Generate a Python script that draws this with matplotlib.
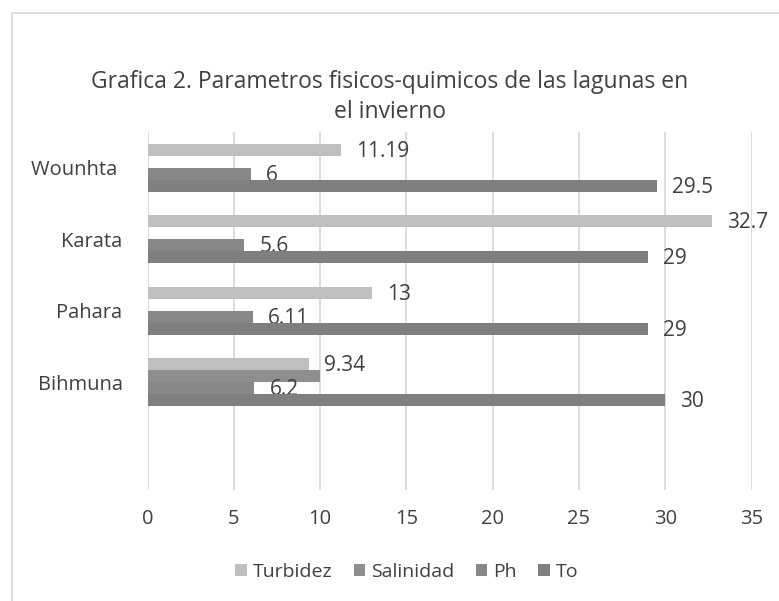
import numpy as np
import matplotlib.pyplot as plt
from matplotlib.patches import Rectangle

# Data (bottom to top)
lagunas = ['Bihmuna', 'Pahara', 'Karata', 'Wounhta ']
turbidez = [9.34, 13, 32.7, 11.19]
salinidad = [10, None, None, None]
ph = [6.2, 6.11, 5.6, 6]
temp = [30, 29, 29, 29.5]

series = [
    ('Turbidez', turbidez, '#bfbfbf', 0.252, True),
    ('Salinidad', salinidad, '#8e8e8e', 0.084, False),
    ('Ph', ph, '#878787', -0.084, True),
    ('To', temp, '#7f7f7f', -0.252, True),
]

plt.rcParams['font.family'] = ['Open Sans', 'DejaVu Sans']
text_col = '#404040'

fig = plt.figure(figsize=(7.79, 6.01), dpi=100)
fig.patches.append(Rectangle((12 / 779, -0.1), 1.2, 1 - 13 / 601 + 0.1,
                             transform=fig.transFigure, fill=False,
                             edgecolor='#d9d9d9', linewidth=1.2))

ax = fig.add_axes([147.5 / 779, 1 - 489.5 / 601, 604 / 779, 357.5 / 601])
y = np.arange(len(lagunas))
bar_h = 0.168

for name, vals, col, off, show in series:
    idx = [i for i, v in enumerate(vals) if v is not None]
    v = [vals[i] for i in idx]
    bars = ax.barh(y[idx] + off, v, height=bar_h, color=col, label=name, zorder=3)
    if show:
        for b, val in zip(bars, v):
            ax.annotate(f'{val:g}', (b.get_width(), b.get_y() + b.get_height() / 2),
                        xytext=(11, -1), textcoords='offset points',
                        ha='left', va='center', fontsize=15, color=text_col,
                        annotation_clip=False)

ax.set_xlim(0, 35)
ax.set_ylim(-1.5, 3.5)
ax.set_xticks(range(0, 36, 5))
ax.set_yticks(y)
ax.set_yticklabels(lagunas)
ax.grid(axis='x', color='#d9d9d9', linewidth=1.3, zorder=0)
for s in ax.spines.values():
    s.set_visible(False)
ax.tick_params(length=0, labelsize=14.5, colors=text_col)
ax.tick_params(axis='x', pad=14)
ax.tick_params(axis='y', pad=18)

fig.text(0.5, 1 - 97 / 601, 'Grafica 2. Parametros fisicos-quimicos de las lagunas en\nel invierno',
         ha='center', va='center', fontsize=16.5, color=text_col, linespacing=1.35)

handles, labels = ax.get_legend_handles_labels()
fig.legend(handles, labels, loc='center', bbox_to_anchor=(0.522, 1 - 572 / 601),
           ncol=4, frameon=False, fontsize=14, handlelength=0.6, handleheight=0.6,
           handletextpad=0.3, columnspacing=1.1, labelcolor=text_col)

fig.savefig('out.png', dpi=100)
